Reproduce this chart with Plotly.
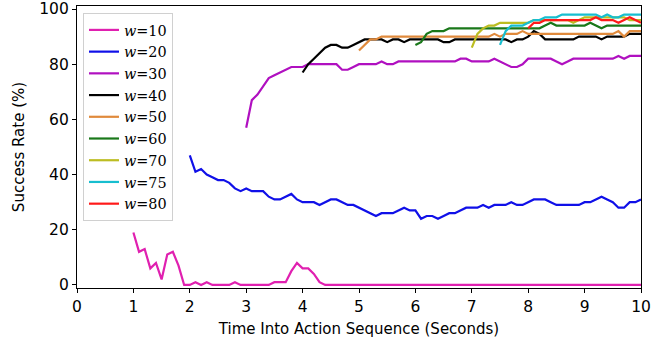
import numpy as np
import plotly.graph_objects as go

# time step 0.1 s
w10 = [19, 12, 13, 6, 8, 2, 11, 12, 7, 0,
       0, 1, 0, 1, 0, 0, 0, 0, 1, 0,
       0, 0, 0, 0, 0, 1, 1, 1, 5, 8,
       6, 6, 4, 1, 0] + [0] * 56
w10_start = 1.0

w20 = [47, 41, 42, 40, 39, 38, 38, 37, 35, 34,
       35, 34, 34, 34, 32, 31, 31, 32, 33, 31,
       30, 30, 30, 29, 30, 31, 31, 30, 29, 29,
       28, 27, 26, 25, 26, 26, 26, 27, 28, 27,
       27, 24, 25, 25, 24, 25, 26, 26, 27, 28,
       28, 28, 29, 28, 29, 29, 29, 30, 29, 29,
       30, 31, 31, 31, 30, 29, 29, 29, 29, 29,
       30, 30, 31, 32, 31, 30, 28, 28, 30, 30, 31]
w20_start = 2.0

w30 = [57, 67, 69, 72, 75, 76, 77, 78, 79, 79,
       79, 80, 80, 80, 80, 80, 80, 78, 78, 79,
       80, 80, 80, 80, 81, 80, 80, 81, 81, 81,
       81, 81, 81, 81, 81, 81, 81, 81, 82, 82,
       81, 81, 81, 81, 82, 81, 80, 79, 79, 80,
       82, 82, 82, 82, 82, 81, 80, 81, 82, 82,
       82, 82, 82, 82, 82, 82, 83, 82, 83, 83, 83]
w30_start = 3.0

w40 = [77, 80, 82, 84, 86, 87, 87, 86, 86, 87,
       88, 89, 89, 89, 89, 88, 89, 89, 88, 89,
       89, 89, 89, 89, 89, 88, 88, 89, 89, 89,
       89, 89, 89, 89, 89, 89, 89, 88, 89, 89,
       90, 92, 91, 89, 89, 89, 89, 89, 89, 90,
       90, 90, 90, 89, 90, 90, 90, 90, 91, 91, 91]
w40_start = 4.0

w50 = [85, 87, 89, 89, 90, 90, 90, 90, 90, 90,
       90, 90, 90, 90, 90, 90, 90, 90, 90, 90,
       90, 90, 90, 90, 91, 90, 91, 91, 91, 92,
       91, 91, 91, 91, 91, 91, 91, 91, 91, 91,
       91, 91, 91, 91, 91, 91, 92, 90, 92, 92, 92]
w50_start = 5.0

w60 = [87, 88, 91, 92, 92, 92, 93, 93, 93, 93,
       93, 93, 93, 93, 93, 93, 93, 93, 93, 93,
       93, 93, 93, 94, 95, 94, 94, 94, 94, 94,
       94, 95, 94, 93, 94, 94, 94, 94, 94, 94, 94]
w60_start = 6.0

w70 = [86, 91, 93, 94, 94, 95, 95, 95, 95, 95,
       95, 96, 96, 96, 96, 96, 96, 96, 95, 96,
       97, 97, 97, 97, 97, 97, 97, 97, 96, 96, 96]
w70_start = 7.0

w75 = [87, 92, 94, 94, 94, 95, 96, 96, 97, 97,
       97, 98, 98, 98, 98, 98, 98, 98, 97, 98,
       97, 97, 98, 98, 98, 98]
w75_start = 7.5

w80 = [93, 95, 95, 96, 96, 96, 96, 96, 96, 96,
       96, 96, 97, 96, 96, 96, 95, 96, 97, 96, 95]
w80_start = 8.0

labels = ["10", "20", "30", "40", "50", "60", "70", "75", "80"]
series = [w10, w20, w30, w40, w50, w60, w70, w75, w80]
starts = [w10_start, w20_start, w30_start, w40_start, w50_start,
          w60_start, w70_start, w75_start, w80_start]
colors = ["#e020b0", "#1010e8", "#b010c0", "#000000", "#e08a3c",
          "#1a781a", "#bcbd22", "#17becf", "#ff1a1a"]

x_ticks = [0, 1, 2, 3, 4, 5, 6, 7, 8, 9, 10]
y_ticks = [0, 20, 40, 60, 80, 100]

fig = go.Figure()
for lab, vals, st, col in zip(labels, series, starts, colors):
    xs = [round(st + 0.1 * i, 2) for i in range(len(vals))]
    fig.add_trace(go.Scatter(
        x=xs, y=vals, mode="lines",
        line=dict(color=col, width=2.2),
        name="<i>w</i>=" + lab,
    ))

axis_common = dict(
    showline=True, linecolor="black", linewidth=1.2, mirror=True,
    ticks="outside", ticklen=4, tickcolor="black", showgrid=False,
    zeroline=False, automargin=False, ticklabeloverflow="allow",
    tickfont=dict(family="DejaVu Sans", size=15.5, color="black"),
)
fig.update_xaxes(range=[0, 10], tickvals=x_ticks,
                 title=dict(text="Time Into Action Sequence (Seconds)",
                            font=dict(family="DejaVu Sans", size=15, color="black"),
                            standoff=8),
                 **axis_common)
fig.update_yaxes(range=[-1.1, 101.1], tickvals=y_ticks,
                 title=dict(text="Success Rate (%)",
                            font=dict(family="DejaVu Sans", size=15, color="black"),
                            standoff=10),
                 **axis_common)

fig.update_layout(
    template="none",
    width=651, height=341,
    margin=dict(l=77, r=10, t=6, b=53),
    plot_bgcolor="white", paper_bgcolor="white",
    legend=dict(
        x=0.0106, y=0.975, xanchor="left", yanchor="top",
        bgcolor="rgba(255,255,255,0.9)", bordercolor="#d0d0d0", borderwidth=1,
        font=dict(family="DejaVu Serif", size=14.4, color="black"),
        tracegroupgap=0, itemwidth=30,
    ),
)

fig.write_html("out.html",
               config={"displayModeBar": False},
               post_script="document.body.style.margin='0';document.body.style.overflow='hidden';")
